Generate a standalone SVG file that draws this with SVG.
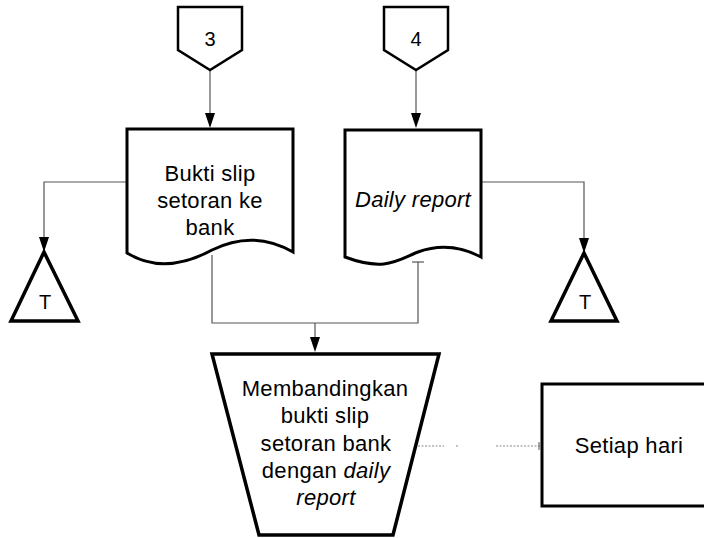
<svg xmlns="http://www.w3.org/2000/svg" width="704" height="538" viewBox="0 0 704 538">
  <style>
    .shape { fill: #ffffff; stroke: #000000; stroke-width: 3; stroke-linejoin: miter; }
    .thin { fill: none; stroke: #555555; stroke-width: 1.2; }
    .dot { fill: none; stroke: #888888; stroke-width: 1; stroke-dasharray: 2 1.5; }
    .lbl { font-family: "Liberation Sans", Arial, sans-serif; font-size: 22px; letter-spacing: 0.3px; fill: #000000; text-anchor: middle; }
    .small { font-family: "Liberation Sans", Arial, sans-serif; font-size: 20px; fill: #000000; text-anchor: middle; }
    .it { font-style: italic; }
  </style>

  <!-- connectors -->
  <g id="connectors">
    <line class="thin" x1="210" y1="70" x2="210" y2="114"/>
    <path d="M205,113 L215,113 L210,128 Z" fill="#000"/>
    <line class="thin" x1="416" y1="70" x2="416" y2="114"/>
    <path d="M411,113 L421,113 L416,128 Z" fill="#000"/>

    <path class="thin" d="M127,182 H44 V238"/>
    <path d="M39,237 L49,237 L44,252 Z" fill="#000"/>
    <path class="thin" d="M481,182 H584 V239"/>
    <path d="M579,238 L589,238 L584,253 Z" fill="#000"/>

    <path class="thin" d="M212,255 V323 H418 V262"/>
    <line class="thin" x1="412" y1="262" x2="424" y2="262"/>
    <line class="thin" x1="315" y1="323" x2="315" y2="338"/>
    <path d="M310,337 L320,337 L315,352 Z" fill="#000"/>

    <line class="dot" x1="418" y1="446" x2="444" y2="446"/>
    <line class="dot" x1="456" y1="446" x2="458" y2="446"/>
    <line class="dot" x1="496" y1="446" x2="540" y2="446"/>
    <line x1="539" y1="442" x2="539" y2="450" stroke="#555" stroke-width="1"/>
  </g>

  <!-- off-page connector 3 -->
  <g id="offpage-3">
    <path class="shape" style="stroke-width:2.5" d="M178,7 H242 V50 L210,70 L178,50 Z"/>
    <text class="small" x="210" y="46">3</text>
  </g>

  <!-- off-page connector 4 -->
  <g id="offpage-4">
    <path class="shape" style="stroke-width:2.5" d="M384,7 H448 V50 L416,70 L384,50 Z"/>
    <text class="small" x="416" y="46">4</text>
  </g>

  <!-- document: deposit slip -->
  <g id="doc-slip">
    <path class="shape" d="M127,129 H293 V252 C265,236 238,237 212,250 C188,263 158,272 127,253 Z"/>
    <text class="lbl" x="210" y="181">Bukti slip</text>
    <text class="lbl" x="210" y="208">setoran ke</text>
    <text class="lbl" x="210" y="235">bank</text>
  </g>

  <!-- document: daily report -->
  <g id="doc-daily">
    <path class="shape" d="M345,130 H481 V257 C460,246 440,244 418,252 C398,260 385,272 345,257 Z"/>
    <text class="lbl it" x="413" y="207">Daily report</text>
  </g>

  <!-- file triangles -->
  <g id="file-left">
    <path class="shape" style="stroke-width:3.5" d="M44,252 L78,321 H11 Z"/>
    <text class="small" x="45" y="309">T</text>
  </g>
  <g id="file-right">
    <path class="shape" style="stroke-width:3.5" d="M584,253 L617,321 H551 Z"/>
    <text class="small" x="585" y="309">T</text>
  </g>

  <!-- manual operation -->
  <g id="compare">
    <path class="shape" style="stroke-width:3.5" d="M212,354 H439 L393,535 H259 Z"/>
    <text class="lbl" x="325" y="396">Membandingkan</text>
    <text class="lbl" x="325" y="423">bukti slip</text>
    <text class="lbl" x="326" y="451">setoran bank</text>
    <text class="lbl" x="326" y="478">dengan <tspan class="it">daily</tspan></text>
    <text class="lbl it" x="326" y="505">report</text>
  </g>

  <!-- annotation -->
  <g id="note-daily">
    <path class="shape" d="M710,384 H542 V506 H710"/>
    <text class="lbl" x="629" y="453">Setiap hari</text>
  </g>
</svg>
